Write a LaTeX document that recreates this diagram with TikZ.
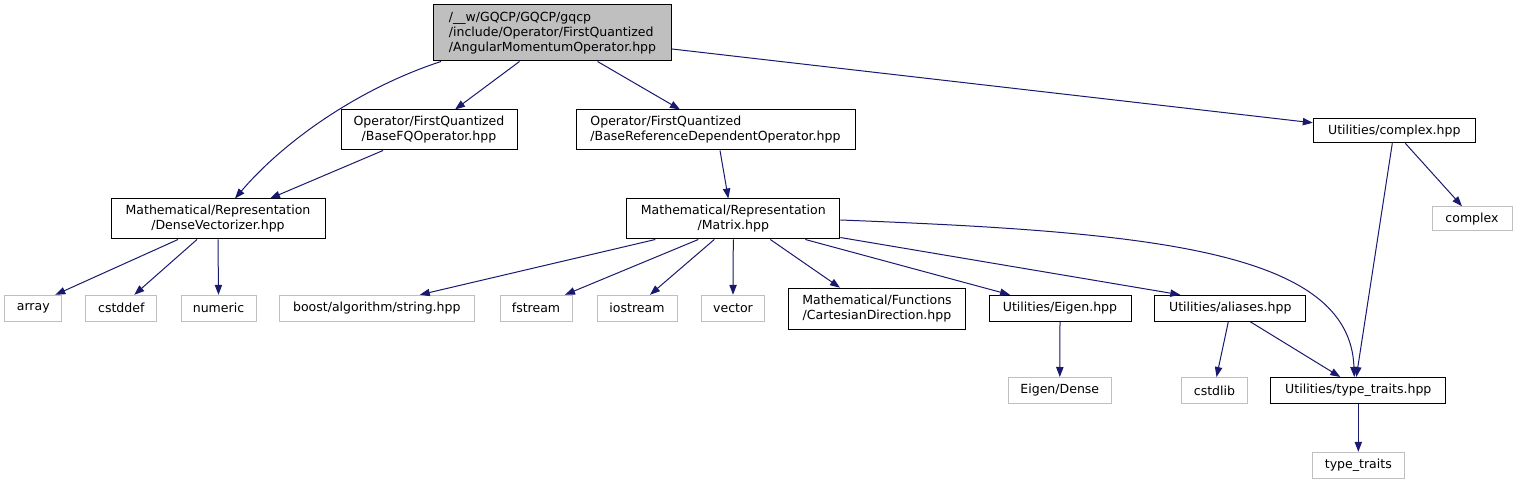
\documentclass[tikz,border=0pt]{standalone}
\usepackage{fontspec}
\setmainfont{DejaVu Sans}
\usetikzlibrary{arrows.meta,calc}
\definecolor{edgec}{HTML}{191970}
\definecolor{greyb}{HTML}{BFBFBF}
\definecolor{topfill}{HTML}{BFBFBF}
\begin{document}
\begin{tikzpicture}[x=0.75pt,y=-0.75pt,
  sz/.style 2 args={minimum width=#1*0.75pt,minimum height=#2*0.75pt},
  box/.style={draw=black,line width=0.75pt,inner sep=0pt,font=\fontsize{9.4}{11.25}\selectfont},
  ext/.style={draw=greyb,line width=0.75pt,inner sep=0pt,font=\fontsize{9.4}{11.25}\selectfont},
  edge/.style={draw=edgec,line width=0.75pt,-{Triangle[length=7.5pt,width=5.5pt]}}]
\useasboundingbox[fill=white] (0,0) rectangle (1517,484);
% nodes
\node[box,fill=topfill,sz={238}{56},align=left] (top) at (552.5,33) {/\_\_w/GQCP/GQCP/gqcp\\/include/Operator/FirstQuantized\\/AngularMomentumOperator.hpp};
\node[box,sz={176}{40},align=center] (bfq) at (429,130) {Operator/FirstQuantized\\/BaseFQOperator.hpp};
\node[box,sz={279}{40},align=left] (bref) at (715.5,130) {Operator/FirstQuantized\\/BaseReferenceDependentOperator.hpp};
\node[box,sz={162}{24}] (cplxh) at (1394.3,130.8) {Utilities/complex.hpp};
\node[ext,sz={80}{24}] (cplx) at (1472,218.7) {complex};
\node[box,sz={214}{40},align=center] (dv) at (218,219) {Mathematical/Representation\\/DenseVectorizer.hpp};
\node[box,sz={213}{40},align=center] (mat) at (733.3,219) {Mathematical/Representation\\/Matrix.hpp};
\node[ext,sz={57}{26}] (arr) at (33.3,308.3) {array};
\node[ext,sz={71}{26}] (cstddef) at (121.3,308.3) {cstddef};
\node[ext,sz={75}{26}] (num) at (218.5,308.3) {numeric};
\node[ext,sz={195}{26}] (boost) at (376.8,308.3) {boost/algorithm/string.hpp};
\node[ext,sz={72}{26}] (fstr) at (536,308.3) {fstream};
\node[ext,sz={80}{26}] (iostr) at (637,308.3) {iostream};
\node[ext,sz={63}{26}] (vec) at (733,308.3) {vector};
\node[box,sz={177}{41},align=center] (cart) at (877,308.7) {Mathematical/Functions\\/CartesianDirection.hpp};
\node[box,sz={142}{26}] (eig) at (1060,308.3) {Utilities/Eigen.hpp};
\node[box,sz={151}{26}] (ali) at (1230.3,308.3) {Utilities/aliases.hpp};
\node[ext,sz={103}{26}] (dense) at (1059.8,390.5) {Eigen/Dense};
\node[ext,sz={66}{26}] (cstdlib) at (1214.5,390.5) {cstdlib};
\node[box,sz={175}{26}] (tth) at (1358.3,390.5) {Utilities/type\_traits.hpp};
\node[ext,sz={92}{26}] (tt) at (1358.3,465.3) {type\_traits};
% edges
\draw[edge] ($(top.south)+(-111.5,0)$) .. controls (360,88) and (285,140) .. ($(dv.north)+(17,0)$);
\draw[edge] ($(top.south)+(-33,0)$) -- ($(bfq.north)+(26,0)$);
\draw[edge] ($(top.south)+(45,0)$) -- ($(bref.north)+(-35.5,0)$);
\draw[edge] ($(top.east)+(0,16)$) -- ($(cplxh.west)+(0,-8)$);
\draw[edge] ($(bfq.south)+(-46,0)$) -- ($(dv.north)+(52,0)$);
\draw[edge] ($(bref.south)+(4.5,0)$) -- ($(mat.north)+(-5,0)$);
\draw[edge] ($(cplxh.south)+(-2,0)$) -- ($(tth.north)+(-2,0)$);
\draw[edge] ($(cplxh.south)+(11,0)$) -- ($(cplx.north)+(-10,0)$);
\draw[edge] ($(dv.south)+(-40,0)$) -- ($(arr.north)+(22,0)$);
\draw[edge] ($(dv.south)+(-21,0)$) -- ($(cstddef.north)+(13,0)$);
\draw[edge] (dv.south) -- (num.north);
\draw[edge] ($(mat.south)+(-78,0)$) -- ($(boost.north)+(43,0)$);
\draw[edge] ($(mat.south)+(-35,0)$) -- ($(fstr.north)+(29,0)$);
\draw[edge] ($(mat.south)+(-19,0)$) -- ($(iostr.north)+(13,0)$);
\draw[edge] (mat.south) -- (vec.north);
\draw[edge] ($(mat.south)+(37,0)$) -- ($(cart.north)+(-37,0)$);
\draw[edge] ($(mat.south)+(72,0)$) -- ($(eig.north)+(-50,0)$);
\draw[edge] ($(mat.south east)+(0,-2)$) -- ($(ali.north)+(-50,0)$);
\draw[edge] ($(mat.east)+(0,1)$) .. controls (1150,232) and (1350,250) .. ($(tth.north)+(-4,0)$);
\draw[edge] (eig.south) -- (dense.north);
\draw[edge] ($(ali.south)+(-2,0)$) -- ($(cstdlib.north)+(2,0)$);
\draw[edge] ($(ali.south)+(20,0)$) -- ($(tth.north)+(-18,0)$);
\draw[edge] (tth.south) -- (tt.north);
\end{tikzpicture}
\end{document}
